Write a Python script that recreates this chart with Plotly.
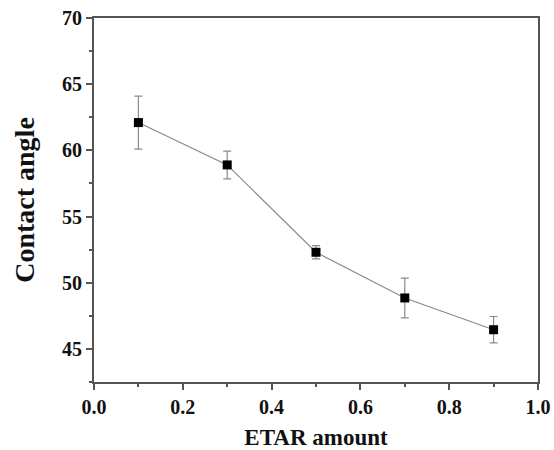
import plotly.graph_objects as go

etar_amount = [0.1, 0.3, 0.5, 0.7, 0.9]
contact_angle = [62.1, 58.9, 52.3, 48.85, 46.45]
error = [2.0, 1.05, 0.5, 1.5, 1.0]

font_family = "Liberation Serif, Times New Roman, serif"
tick_font = dict(family=font_family, size=20, color="#111111", weight="bold")

fig = go.Figure()
fig.add_trace(go.Scatter(
    x=etar_amount, y=contact_angle,
    mode="lines+markers",
    line=dict(color="#8a8a8a", width=1.2),
    marker=dict(symbol="square", size=9, color="black"),
    error_y=dict(type="data", array=error, visible=True, color="#8a8a8a", thickness=1.2, width=4),
    showlegend=False,
))

axis_common = dict(
    showline=True, linecolor="#555555", linewidth=2, mirror=True,
    ticks="outside", ticklen=6, tickwidth=1.5, tickcolor="#555555",
    showgrid=False, zeroline=False, automargin=False,
    tickfont=tick_font,
)

fig.update_layout(
    width=554, height=450,
    margin=dict(l=94, r=16, t=18, b=68),
    plot_bgcolor="white", paper_bgcolor="white",
    xaxis=dict(
        range=[0, 1.0], dtick=0.2, tickformat=".1f",
        minor=dict(dtick=0.1, ticks="outside", ticklen=3, tickwidth=1.5, tickcolor="#555555"),
        title=dict(text="<b>ETAR amount</b>", font=dict(family=font_family, size=23, color="#111111"), standoff=14),
        **axis_common,
    ),
    yaxis=dict(
        range=[42.5, 70], tickvals=[45, 50, 55, 60, 65, 70],
        minor=dict(dtick=2.5, ticks="outside", ticklen=3, tickwidth=1.5, tickcolor="#555555"),
        title=dict(text="<b>Contact angle</b>", font=dict(family=font_family, size=28, color="#111111"), standoff=19),
        **axis_common,
    ),
)

fig.write_html(
    "out.html",
    config={"displayModeBar": False},
    post_script="document.body.style.margin='0';document.documentElement.style.overflow='hidden';",
)
